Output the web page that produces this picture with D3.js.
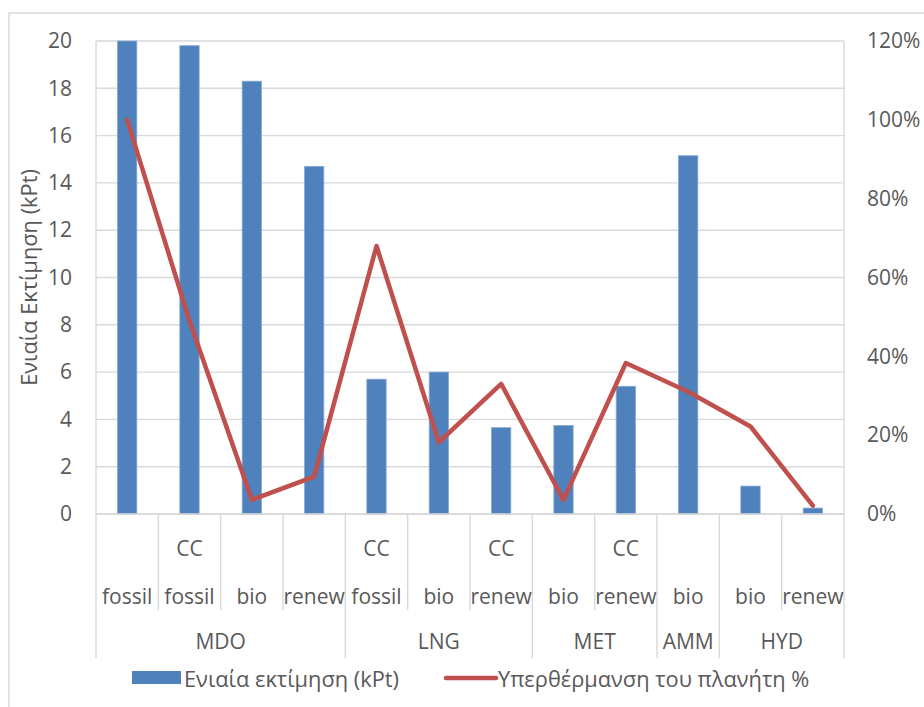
<!DOCTYPE html>
<html>
<head>
<meta charset="utf-8">
<script src="https://cdn.jsdelivr.net/npm/d3@7"></script>
<style>
  html, body { margin: 0; padding: 0; background: #fff; }
  svg { display: block; }
  text { font-family: "Open Sans", "Noto Sans", sans-serif; fill: #595959; }
</style>
</head>
<body>
<svg id="chart" width="924" height="707"></svg>
<script>
// Fuel pathways: outer group, fuel origin, carbon-capture flag
const groups   = ["MDO", "MDO", "MDO", "MDO", "LNG", "LNG", "LNG", "MET", "MET", "AMM", "HYD", "HYD"];
const fuels    = ["fossil", "fossil", "bio", "renew", "fossil", "bio", "renew", "bio", "renew", "bio", "bio", "renew"];
const capture  = ["", "CC", "", "", "CC", "", "CC", "", "CC", "", "", ""];

// Single score (kPt) and global-warming share (%)
const scoreKPt   = [20, 19.8, 18.3, 14.7, 5.7, 6.0, 3.65, 3.74, 5.4, 15.15, 1.18, 0.25];
const warmingPct = [100, 49, 3.6, 9.5, 68, 18.2, 33, 3.6, 38.3, 31, 22.2, 2.1];

const leftTicks  = [0, 2, 4, 6, 8, 10, 12, 14, 16, 18, 20];
const rightTicks = [0, 20, 40, 60, 80, 100, 120];

const legendLabels = ["Ενιαία εκτίμηση (kPt)", "Υπερθέρμανση του πλανήτη %"];
const yTitle = "Ενιαία Εκτίμηση (kPt)";

const svg = d3.select("#chart");
const m = { left: 96, right: 844, top: 41, bottom: 514 };
const grid = "#d9d9d9";
const blue = "#4F81BD", red = "#C0504D";
const fs = "21px", fsGreek = "21.8px";

// outer chart frame
svg.append("rect").attr("x", 9).attr("y", 13).attr("width", 940).attr("height", 720)
  .attr("fill", "none").attr("stroke", grid).attr("stroke-width", 1.5);

const idx = d3.range(fuels.length);
const x = d3.scaleBand().domain(idx).range([m.left, m.right])
  .paddingInner(0.69).paddingOuter(0.345);
const step = x.step();
const yL = d3.scaleLinear().domain([0, 20]).range([m.bottom, m.top]);
const yR = d3.scaleLinear().domain([0, 120]).range([m.bottom, m.top]);

// horizontal gridlines
svg.append("g").selectAll("line").data(leftTicks).join("line")
  .attr("x1", m.left).attr("x2", m.right)
  .attr("y1", d => yL(d)).attr("y2", d => yL(d))
  .attr("stroke", grid).attr("stroke-width", 1.4);

// plot side borders
svg.append("line").attr("x1", m.left).attr("x2", m.left).attr("y1", m.top).attr("y2", m.bottom)
  .attr("stroke", grid).attr("stroke-width", 1.4);
svg.append("line").attr("x1", m.right).attr("x2", m.right).attr("y1", m.top).attr("y2", m.bottom)
  .attr("stroke", grid).attr("stroke-width", 1.4);

// left axis labels
const leftAxis = d3.axisLeft(yL).tickValues(leftTicks).tickSize(0).tickPadding(24);
const gL = svg.append("g").attr("transform", `translate(${m.left},0)`).call(leftAxis);
gL.select(".domain").remove();
gL.selectAll("text").style("font-size", fs).style("font-family", null).attr("fill", "#595959");

// right axis labels
const rightAxis = d3.axisRight(yR).tickValues(rightTicks).tickSize(0).tickPadding(23)
  .tickFormat(d => d + "%");
const gR = svg.append("g").attr("transform", `translate(${m.right},0)`).call(rightAxis);
gR.select(".domain").remove();
gR.selectAll("text").style("font-size", fs).style("font-family", null).attr("fill", "#595959");

// y-axis title
svg.append("text").attr("transform", `translate(28,${(m.top + m.bottom) / 2}) rotate(-90)`)
  .attr("text-anchor", "middle").attr("dominant-baseline", "central")
  .style("font-size", fsGreek).text(yTitle);

// bars
svg.append("g").selectAll("rect").data(idx).join("rect")
  .attr("x", i => x(i)).attr("width", x.bandwidth())
  .attr("y", i => yL(scoreKPt[i])).attr("height", i => yL(0) - yL(scoreKPt[i]))
  .attr("fill", blue).attr("stroke", "#86a8d4").attr("stroke-width", 0.8);

// warming line
const line = d3.line().x(i => x(i) + x.bandwidth() / 2).y(i => yR(warmingPct[i]));
svg.append("path").datum(idx).attr("d", line)
  .attr("fill", "none").attr("stroke", red).attr("stroke-width", 4.5)
  .attr("stroke-linejoin", "round").attr("stroke-linecap", "round");

// multi-level category axis
const cat = svg.append("g");
cat.append("line").attr("x1", m.left).attr("x2", m.right).attr("y1", m.bottom).attr("y2", m.bottom)
  .attr("stroke", grid).attr("stroke-width", 1.4);
// separators between individual categories
d3.range(1, fuels.length).forEach(i => {
  const bx = m.left + i * step;
  const groupEdge = groups[i] !== groups[i - 1];
  cat.append("line").attr("x1", bx).attr("x2", bx)
    .attr("y1", m.bottom).attr("y2", groupEdge ? 658 : 610)
    .attr("stroke", grid).attr("stroke-width", 1.4);
});
[m.left, m.right].forEach(bx => {
  cat.append("line").attr("x1", bx).attr("x2", bx).attr("y1", m.bottom).attr("y2", 658)
    .attr("stroke", grid).attr("stroke-width", 1.4);
});
cat.selectAll("text.fuel").data(idx).join("text").attr("class", "fuel")
  .attr("x", i => x(i) + x.bandwidth() / 2).attr("y", 596)
  .attr("text-anchor", "middle").attr("dominant-baseline", "central")
  .style("font-size", fs).text(i => fuels[i]);
cat.selectAll("text.cc").data(idx.filter(i => capture[i])).join("text").attr("class", "cc")
  .attr("x", i => x(i) + x.bandwidth() / 2).attr("y", 548)
  .attr("text-anchor", "middle").attr("dominant-baseline", "central")
  .style("font-size", fs).text(i => capture[i]);
// group labels centred over their spans
const spans = [];
idx.forEach(i => {
  if (i === 0 || groups[i] !== groups[i - 1]) spans.push({ name: groups[i], start: i, end: i });
  else spans[spans.length - 1].end = i;
});
cat.selectAll("text.grp").data(spans).join("text").attr("class", "grp")
  .attr("x", s => m.left + (s.start + s.end + 1) / 2 * step).attr("y", 641)
  .attr("text-anchor", "middle").attr("dominant-baseline", "central")
  .style("font-size", fs).text(s => s.name);

// legend
const lg = svg.append("g");
lg.append("rect").attr("x", 132).attr("y", 671).attr("width", 49).attr("height", 13).attr("fill", blue);
lg.append("text").attr("x", 184).attr("y", 678).attr("dominant-baseline", "central")
  .style("font-size", fsGreek).text(legendLabels[0]);
lg.append("line").attr("x1", 446).attr("x2", 496).attr("y1", 678).attr("y2", 678)
  .attr("stroke", red).attr("stroke-width", 4.5).attr("stroke-linecap", "round");
lg.append("text").attr("x", 498).attr("y", 678).attr("dominant-baseline", "central")
  .style("font-size", fsGreek).text(legendLabels[1]);
</script>
</body>
</html>
